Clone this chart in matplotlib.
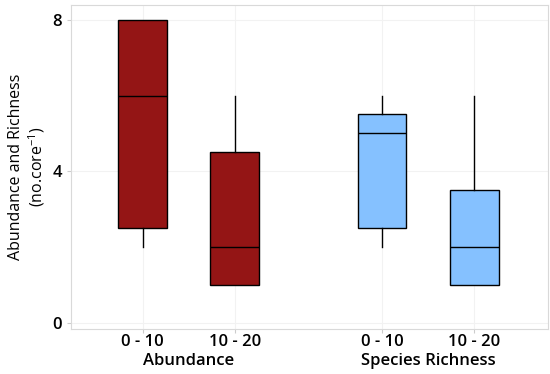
import matplotlib
matplotlib.use("Agg")
import matplotlib.pyplot as plt
import matplotlib.transforms as mt

plt.rcParams['font.family'] = ['Open Sans', 'DejaVu Sans']
plt.rcParams['mathtext.default'] = 'regular'

labels = ["0 - 10", "10 - 20", "0 - 10", "10 - 20"]
groups = ["Abundance", "Species Richness"]
whislo = [2, 1, 2, 1]
q1 = [2.5, 1, 2.5, 1]
med = [6, 2, 5, 2]
q3 = [8, 4.5, 5.5, 3.5]
whishi = [8, 6, 6, 6]
colors = ["#941515", "#941515", "#85C1FF", "#85C1FF"]
positions = [1, 2, 3.6, 4.6]

stats = []
for i in range(4):
    stats.append(dict(med=med[i], q1=q1[i], q3=q3[i], whislo=whislo[i], whishi=whishi[i], fliers=[], label=labels[i]))

fig = plt.figure(figsize=(5.5, 3.74), dpi=100)
ax = fig.add_axes([0.129, 0.120, 0.867, 0.867])
ax.set_axisbelow(True)
ax.grid(True, color="#f2f2f2", linewidth=0.8)
bp = ax.bxp(stats, positions=positions, widths=0.53, patch_artist=True, showcaps=False,
            boxprops=dict(linewidth=1.0, edgecolor="black"),
            medianprops=dict(color="black", linewidth=1.0),
            whiskerprops=dict(color="black", linewidth=1.0))
for p, c in zip(bp['boxes'], colors):
    p.set_facecolor(c)

ax.set_xlim(0.22, 5.4)
ax.set_ylim(-0.16, 8.39)
ax.set_yticks([0, 4, 8])
ax.set_xticks(positions)
ax.set_xticklabels(labels)
ax.tick_params(axis='both', labelsize=12, color="#cccccc", length=3, labelcolor="black")
ax.tick_params(axis='x', pad=0.5)
for t in ax.get_xticklabels() + ax.get_yticklabels():
    t.set_fontweight('semibold')
for s in ax.spines.values():
    s.set_color("#d9d9d9")
ax.set_ylabel("Abundance and Richness\n(no.core$^{-1}$)", fontsize=11.5, labelpad=4, linespacing=1.15)

trans = mt.blended_transform_factory(ax.transData, fig.transFigure)
for g, x in zip(groups, [1.5, 4.1]):
    ax.text(x, 1 - 361/374, g, transform=trans, ha="center", va="center", fontsize=12, fontweight='semibold')

fig.savefig("out.png", dpi=100)
